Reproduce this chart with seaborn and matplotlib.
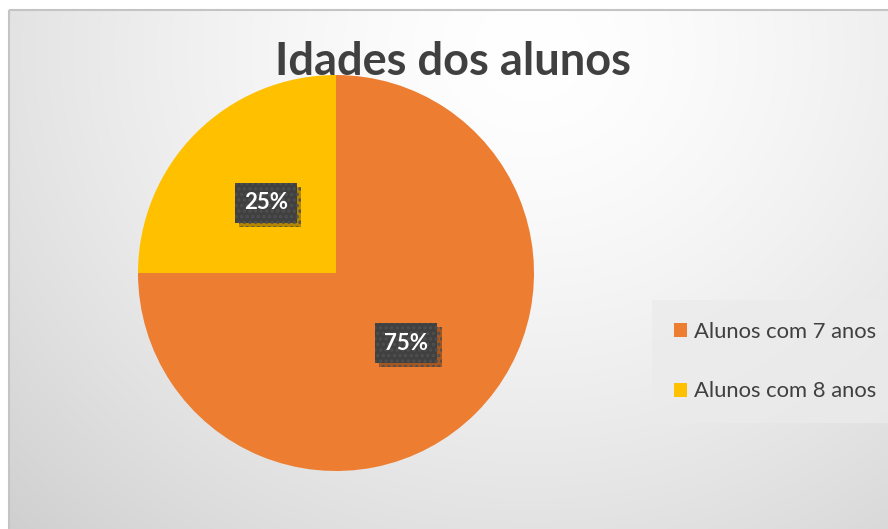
import numpy as np
import matplotlib
matplotlib.use("Agg")
import matplotlib.pyplot as plt
import matplotlib.patheffects as pe
from matplotlib.patches import Rectangle
import seaborn as sns

# ---- data ----
categories = ["Alunos com 7 anos", "Alunos com 8 anos"]
values = [75, 25]
colors = ["#ED7D31", "#FFC000"]
title = "Idades dos alunos"

sns.set_style("white")
plt.rcParams["font.family"] = ["Lato", "DejaVu Sans"]
plt.rcParams["hatch.linewidth"] = 1.6
palette = sns.color_palette(colors)

W, H = 888, 529
fig = plt.figure(figsize=(W / 100, H / 100), dpi=100)
fig.patch.set_facecolor("white")

# ---- background with radial gradient and border ----
bg = fig.add_axes([0, 0, 1, 1])
bg.set_xlim(0, W)
bg.set_ylim(H, 0)
bg.axis("off")
yy, xx = np.mgrid[10:H, 9:W]
d = np.sqrt(((xx - 530) / 1.05) ** 2 + ((yy - 50) / 0.95) ** 2)
v = 255 - 42 * (d / 650) ** 1.5
v = np.clip(v, 200, 255) / 255.0
img = np.dstack([v, v, v])
bg.imshow(img, extent=(9, W, H, 10), aspect="auto", interpolation="bilinear", zorder=0)
bg.add_patch(Rectangle((9, 10), W, H, fill=False, ec="#c4c4c4", lw=1.5, zorder=1))

# ---- pie ----
cx, cy, r = 336, 273, 198
ax = fig.add_axes([(cx - r) / W, (H - cy - r) / H, 2 * r / W, 2 * r / H])
wedges, texts, autotexts = ax.pie(
    values,
    colors=palette,
    startangle=90,
    counterclock=False,
    autopct=lambda p: f"{p:.0f}%",
    pctdistance=0.5,
    wedgeprops=dict(linewidth=0),
    textprops=dict(color="white", fontsize=16, fontweight="bold"),
)
ax.set_xlim(-1, 1)
ax.set_ylim(-1, 1)
ax.set_aspect("equal")
ax.axis("off")

for t in autotexts:
    t.set_bbox(dict(boxstyle="square,pad=0.42", fc="#404040", ec="#4f4f4f", lw=0, hatch="..."))
    t.get_bbox_patch().set_path_effects([
        pe.SimplePatchShadow(offset=(3, -3), shadow_rgbFace="#000000", alpha=0.3),
        pe.Normal(),
    ])

# ---- title ----
fig.text(453 / W, 1 - 75 / H, title, ha="center", va="baseline",
         fontsize=32.5, fontweight="bold", color="#404040")

# ---- legend ----
leg = fig.legend(
    wedges, categories,
    loc="upper left",
    bbox_to_anchor=(652 / W, 1 - 300 / H),
    frameon=True,
    fontsize=15.8,
    labelcolor="#404040",
    handlelength=0.6,
    handleheight=0.6,
    handletextpad=0.3,
    labelspacing=1.8,
    borderpad=1.0,
    borderaxespad=0,
    fancybox=False,
)
leg.get_frame().set_facecolor("#ebebeb")
leg.get_frame().set_edgecolor("none")
leg.get_frame().set_alpha(0.8)

fig.savefig("out.png", dpi=100)
